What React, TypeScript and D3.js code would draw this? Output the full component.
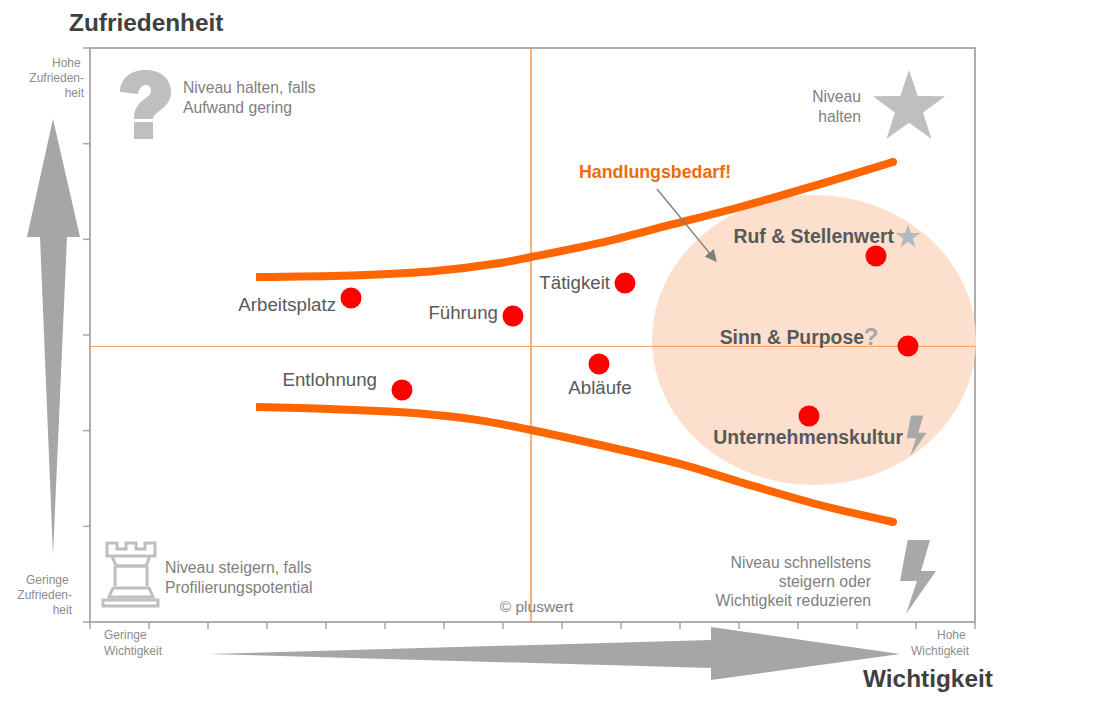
import React from "react";
import * as d3 from "d3";

const labels = ["Arbeitsplatz", "Führung", "Tätigkeit", "Abläufe", "Entlohnung", "Ruf & Stellenwert", "Sinn & Purpose", "Unternehmenskultur"];
const importance = [4.424, 7.169, 9.068, 8.627, 5.288, 13.322, 13.864, 12.186];
const satisfaction = [3.387, 3.199, 3.543, 2.697, 2.425, 3.826, 2.885, 2.153];
const upperX = [2.814, 4.407, 5.763, 6.949, 7.475, 8.644, 9.831, 11.017, 12.373, 13.61];
const upperY = [3.606, 3.622, 3.663, 3.752, 3.815, 3.962, 4.15, 4.338, 4.578, 4.808];
const lowerX = [2.814, 4.068, 5.593, 6.61, 7.475, 8.644, 10, 11.017, 12.373, 13.61];
const lowerY = [2.247, 2.226, 2.18, 2.108, 2.007, 1.85, 1.652, 1.463, 1.223, 1.045];
const xTicks = d3.range(0, 16);
const yTicks = d3.range(0, 7);
const crossX = 7.475;
const crossY = 2.88;

const x = d3.scaleLinear().domain([0, 15]).range([90, 975]);
const y = d3.scaleLinear().domain([0, 6]).range([622, 48]);
const curve = d3.line<[number, number]>().x(d => x(d[0])).y(d => y(d[1])).curve(d3.curveCatmullRom.alpha(0.5));
const FONT = "'Liberation Sans', Arial, sans-serif";

const labelPos: [number, number, string][] = [
  [336, 311, "end"], [498, 319, "end"], [610, 289, "end"], [600, 394, "middle"],
  [377, 386, "end"], [894, 243, "end"], [864, 344, "end"], [903, 444, "end"],
];

function star(cx: number, cy: number, r: number) {
  const pts: [number, number][] = d3.range(10).map(i => {
    const a = -Math.PI / 2 + (i * Math.PI) / 5;
    const rr = i % 2 === 0 ? r : r * 0.39;
    return [cx + rr * Math.cos(a), cy + rr * Math.sin(a)];
  });
  return "M" + pts.join("L") + "Z";
}
const BOLT = "M907.7,540L930,540L921,571L936,571L906,614L917,581L900,581Z";
const QMARK = "M120,92C120,78 131,70 146,70C161,70 171,79 171,92C171,103 163,108 158,112C154,115 153,117 153,119L134,119C134,110 137,105 143,100C148,96 151,95 151,91C151,87 149,85 146,85C141,85 139,89 138,94ZM134,122H153V139H134Z";

function Lines({ lines, x: tx, y: ty, lh, size, anchor = "start", fill = "#7f7f7f" }: any) {
  return (
    <text x={tx} y={ty} fontSize={size} textAnchor={anchor} fill={fill} style={{ whiteSpace: "pre" }}>
      {lines.map((l: string, i: number) => (
        <tspan key={i} x={tx} y={ty + i * lh}>{l}</tspan>
      ))}
    </text>
  );
}

export default function App() {
  const n = upperX.length - 1;
  return (
    <svg width={1093} height={724} style={{ position: "absolute", left: 0, top: 0, background: "#fff" }} fontFamily={FONT}>
      {/* axes frame */}
      <rect x={x(0)} y={y(6)} width={x(15) - x(0)} height={y(0) - y(6)} fill="none" stroke="#a6a6a6" strokeWidth={1.8} />
      {yTicks.map(t => <line key={t} x1={x(0) - 7} x2={x(0)} y1={y(t)} y2={y(t)} stroke="#a6a6a6" strokeWidth={1.5} />)}
      {xTicks.map(t => <line key={t} x1={x(t)} x2={x(t)} y1={y(0)} y2={y(0) + 7} stroke="#a6a6a6" strokeWidth={1.5} />)}

      {/* highlight */}
      <ellipse cx={814} cy={340} rx={162} ry={145} fill="#fcdfcd" />

      {/* cross hair */}
      <line x1={x(crossX)} x2={x(crossX)} y1={y(6)} y2={y(0)} stroke="#f08a35" strokeWidth={1.3} />
      <line x1={x(0)} x2={x(15)} y1={y(crossY)} y2={y(crossY)} stroke="#f4a060" strokeWidth={1} />

      {/* titles */}
      <text x={69} y={31} fontSize={24.4} fontWeight={700} fill="#404040">Zufriedenheit</text>
      <text x={863} y={687} fontSize={24.4} fontWeight={700} fill="#404040">Wichtigkeit</text>

      {/* axis end labels */}
      <Lines lines={["Hohe\u00a0", "Zufrieden-", "heit"]} x={84} y={67} lh={15} size={12} anchor="end" fill="#8c8c8c" />
      <Lines lines={["Geringe\u00a0", "Zufrieden-", "heit"]} x={72} y={584} lh={15} size={12} anchor="end" fill="#8c8c8c" />
      <Lines lines={["Geringe", "Wichtigkeit"]} x={104} y={639} lh={15.5} size={12} fill="#8c8c8c" />
      <Lines lines={["Hohe\u00a0", "Wichtigkeit"]} x={969} y={639} lh={15.5} size={12} anchor="end" fill="#8c8c8c" />

      {/* big arrows */}
      <path d="M53,119L80,237L67,237L53,555L40,237L27,237Z" fill="#a6a6a6" />
      <path d="M208,654L711,640L711,627L900,654L711,680L711,668Z" fill="#a6a6a6" />

      {/* quadrant notes */}
      <Lines lines={["Niveau halten, falls", "Aufwand gering"]} x={183} y={93} lh={20} size={15.7} />
      <Lines lines={["Niveau", "halten"]} x={861} y={102} lh={19.5} size={15.7} anchor="end" />
      <Lines lines={["Niveau steigern, falls", "Profilierungspotential"]} x={165} y={573} lh={20} size={15.8} />
      <Lines lines={["Niveau schnellstens", "steigern oder", "Wichtigkeit reduzieren"]} x={871} y={568} lh={19} size={15.8} anchor="end" />
      <text x={536.5} y={612} fontSize={15.5} textAnchor="middle" fill="#7f7f7f">© pluswert</text>

      {/* icons */}
      <path d={QMARK} fill="#bfbfbf" />
      <path d={star(909, 108, 38)} fill="#bfbfbf" />
      <path d={BOLT} fill="#a9a9a9" />
      <g fill="none" stroke="#bfbfbf" strokeWidth={3}>
        <path d="M107,543H117V549H126V543H136V549H145V543H155V556H107Z" />
        <path d="M112,556L116,566H146L150,556" />
        <path d="M114,566H148M115,566V586M147,566V586" />
        <path d="M113,588H149L153,597H109Z" />
        <rect x={103} y={600} width={55} height={6} />
      </g>

      {/* curves */}
      <path d={curve(d3.zip(upperX, upperY) as [number, number][]) ?? ""} fill="none" stroke="#ff6600" strokeWidth={8} />
      <path d={curve(d3.zip(lowerX, lowerY) as [number, number][]) ?? ""} fill="none" stroke="#ff6600" strokeWidth={8} />
      <circle cx={x(upperX[n])} cy={y(upperY[n])} r={4} fill="#ff6600" />
      <circle cx={x(lowerX[n])} cy={y(lowerY[n])} r={4} fill="#ff6600" />

      {/* callout */}
      <text x={579} y={178} fontSize={17.8} fontWeight={700} fill="#f26a0f">Handlungsbedarf!</text>
      <defs>
        <marker id="ah" viewBox="0 0 10 10" refX={9} refY={5} markerWidth={12} markerHeight={12} markerUnits="userSpaceOnUse" orient="auto">
          <path d="M0,0L10,5L0,10Z" fill="#7f7f7f" />
        </marker>
      </defs>
      <line x1={657} y1={189} x2={716} y2={261} stroke="#7f7f7f" strokeWidth={1.4} markerEnd="url(#ah)" />

      {/* small icons */}
      <path d={star(908, 237, 13)} fill="#b5b8bd" />
      <text x={871} y={345} fontSize={24} fontWeight={700} textAnchor="middle" fill="#a6a6a6">?</text>
      <path d={BOLT} fill="#a9a9a9" transform="translate(409,117) scale(0.553)" />

      {/* points */}
      {labels.map((l, i) => (
        <circle key={l} cx={x(importance[i])} cy={y(satisfaction[i])} r={10.5} fill="#ff0000" />
      ))}
      {labels.map((l, i) => (
        <text key={l} x={labelPos[i][0]} y={labelPos[i][1]} textAnchor={labelPos[i][2] as any}
          fontSize={i >= 5 ? 19.4 : 18.7} fontWeight={i >= 5 ? 700 : 400} fill="#595959">{l}</text>
      ))}
    </svg>
  );
}
